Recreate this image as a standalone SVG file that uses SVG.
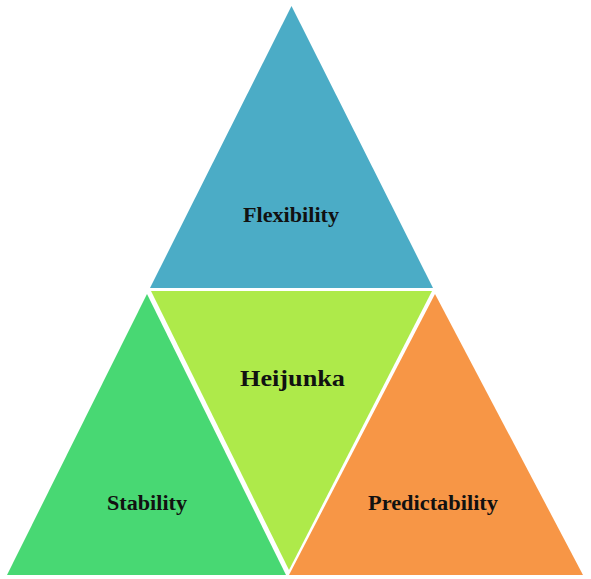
<svg xmlns="http://www.w3.org/2000/svg" width="591" height="579" viewBox="0 0 591 579">
<style>
.lbl{font-family:"Liberation Serif","Times New Roman",serif;font-weight:bold;fill:#111;}
.s{font-size:20px;}
.b{font-size:24px;}
</style>
<rect width="591" height="579" fill="#ffffff"/>
<g id="flexibility">
<polygon points="291.5,6 150,288 433,288" fill="#4BACC6"/>
<text class="lbl s" x="243" y="222" textLength="96" lengthAdjust="spacingAndGlyphs">Flexibility</text>
</g>
<g id="heijunka">
<polygon points="151,291 432,291 289,570" fill="#AEEA4A"/>
<text class="lbl b" x="240" y="386" textLength="105" lengthAdjust="spacingAndGlyphs">Heijunka</text>
</g>
<g id="stability">
<polygon points="147,294 7,575 286,575" fill="#48D873"/>
<text class="lbl s" x="107" y="510" textLength="80" lengthAdjust="spacingAndGlyphs">Stability</text>
</g>
<g id="predictability">
<polygon points="435,294 289,575 583,575" fill="#F79646"/>
<text class="lbl s" x="368" y="510" textLength="130" lengthAdjust="spacingAndGlyphs">Predictability</text>
</g>
<g id="connectors"></g>
</svg>
